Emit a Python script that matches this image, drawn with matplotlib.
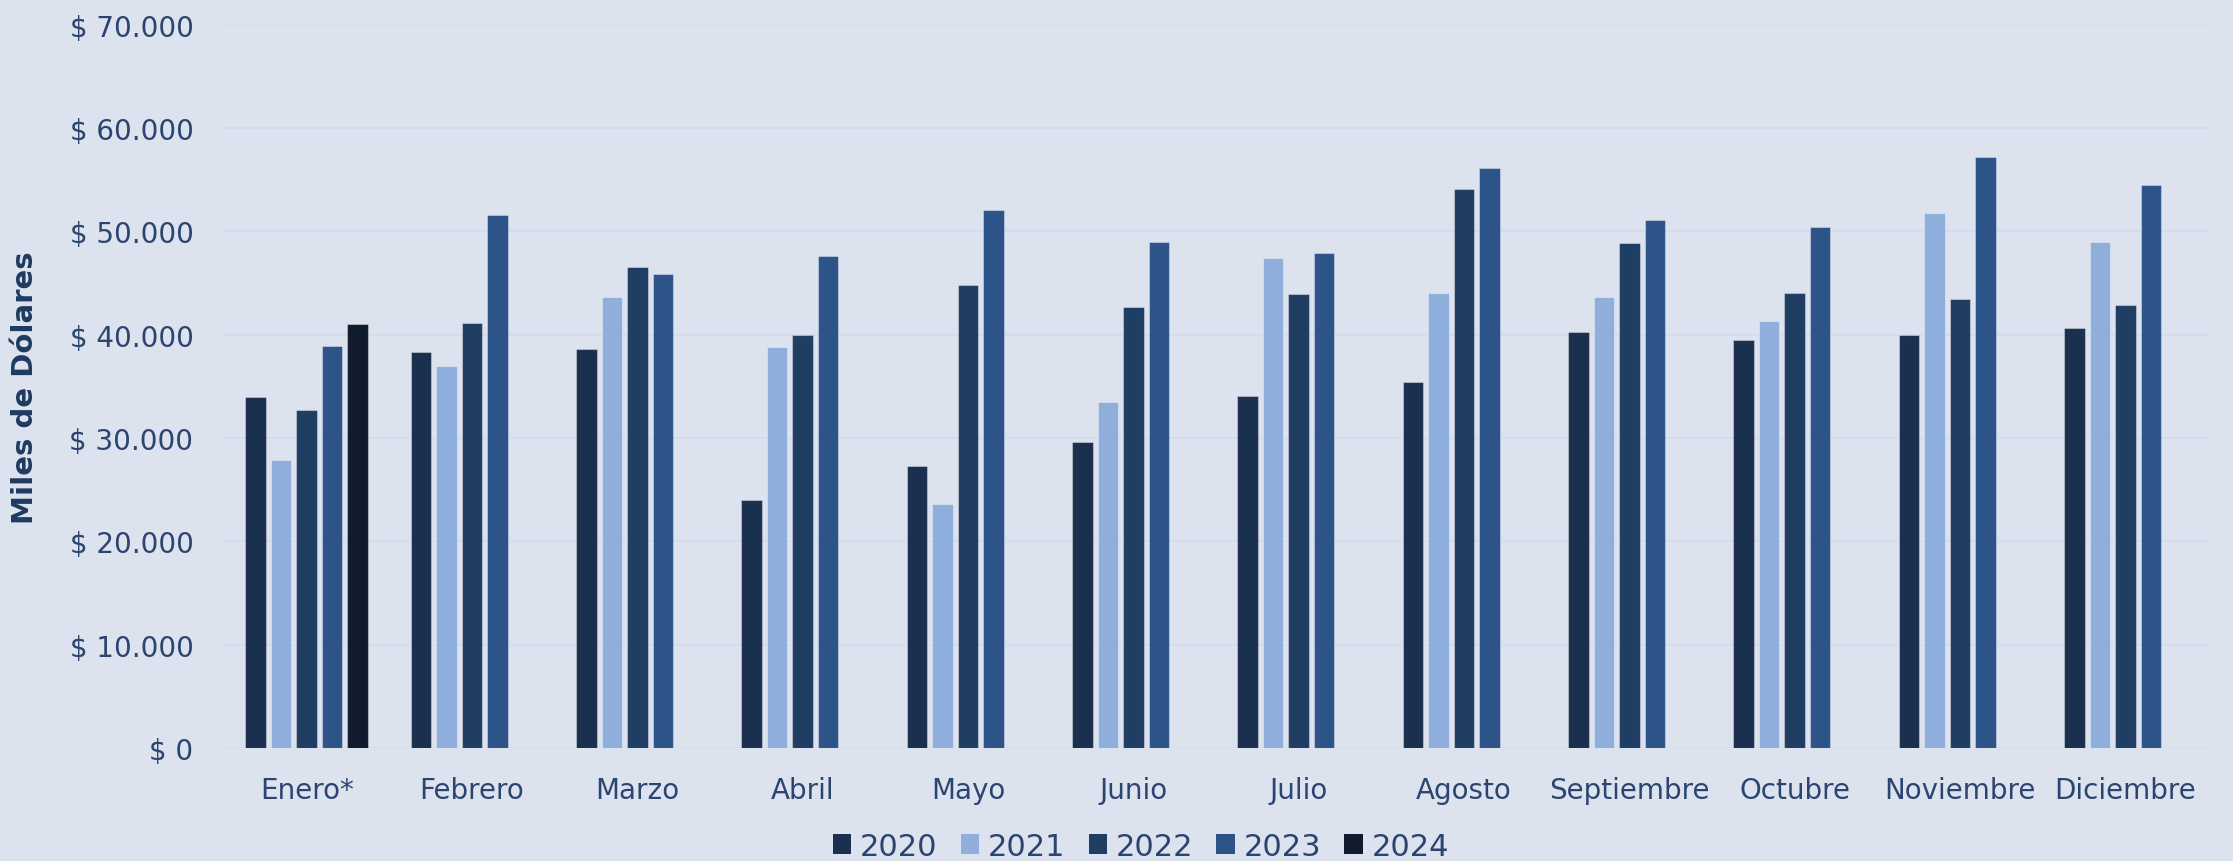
import matplotlib
matplotlib.use("Agg")
import matplotlib.pyplot as plt
import numpy as np
from matplotlib.ticker import FuncFormatter, MultipleLocator
from matplotlib.patches import Patch

meses = ['Enero*', 'Febrero', 'Marzo', 'Abril', 'Mayo', 'Junio',
         'Julio', 'Agosto', 'Septiembre', 'Octubre', 'Noviembre', 'Diciembre']
v2020 = [34000, 38300, 38600, 24000, 27300, 29600, 34100, 35400, 40300, 39500, 40000, 40600]
v2021 = [27900, 37000, 43600, 38800, 23600, 33500, 47400, 44000, 43600, 41300, 51800, 49000]
v2022 = [32700, 41100, 46500, 40000, 44800, 42700, 43900, 54100, 48900, 44000, 43400, 42900]
v2023 = [38900, 51600, 45900, 47600, 52100, 49000, 47900, 56100, 51100, 50400, 57200, 54500]
v2024 = [41000]  # solo enero
anios = ['2020', '2021', '2022', '2023', '2024']
colores = ['#1b2f4e', '#8faedb', '#203d64', '#2c5489', '#101c2d']

bg = '#dce3ee'
txt = '#2b4570'

fig = plt.figure(figsize=(22.33, 8.62), dpi=100, facecolor=bg)
ax = fig.add_axes([0.1003, 0.1311, 0.8885, 0.8392], facecolor=bg)

x = np.arange(len(meses))
paso = 0.154
ancho = 0.124
series = [v2020, v2021, v2022, v2023, v2024]
for i, (serie, color) in enumerate(zip(series, colores)):
    pos = x[:len(serie)] + (i - 2) * paso
    ax.bar(pos, serie, width=ancho, color=color,
           edgecolor=(1, 1, 1, 0.35), linewidth=0.8, zorder=3)

ax.set_ylim(0, 70000)
ax.set_xlim(-0.5, len(meses) - 0.5)
ax.yaxis.set_major_locator(MultipleLocator(10000))
ax.yaxis.set_major_formatter(FuncFormatter(lambda v, p: '$ ' + f'{int(v):,}'.replace(',', '.')))
ax.grid(axis='y', color='#d0ddef', linewidth=1.3, zorder=0)
ax.set_axisbelow(True)
for s in ax.spines.values():
    s.set_visible(False)

ax.set_xticks(x)
ax.set_xticklabels(meses)
ax.tick_params(axis='both', length=0, labelsize=20, labelcolor=txt)
ax.tick_params(axis='x', pad=20)
ax.tick_params(axis='y', pad=22)

ax.set_ylabel('Miles de Dólares', fontsize=21, fontweight='bold', color='#1f3a60')
ax.yaxis.set_label_coords(-0.0933, 0.5)

handles = [Patch(facecolor=c, edgecolor='none') for c in colores]
fig.legend(handles, anios, loc='center', bbox_to_anchor=(0.511, 0.017), ncol=5,
           frameon=False, fontsize=22, labelcolor=txt, handlelength=0.6,
           handleheight=0.6, handletextpad=0.3, columnspacing=0.75, borderpad=0)

plt.savefig('out.png', dpi=100, facecolor=bg)
